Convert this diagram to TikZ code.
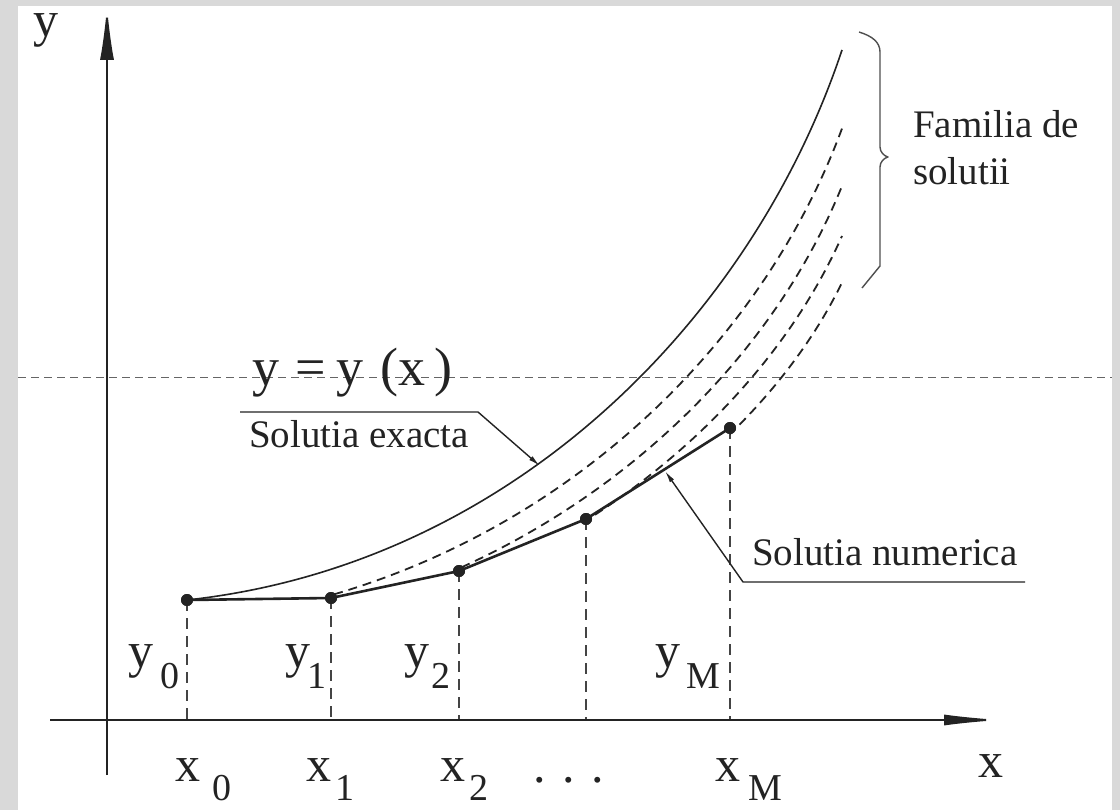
\documentclass[tikz,border=0pt]{standalone}
\usepackage{fontspec}
\setmainfont{Liberation Serif}
\usetikzlibrary{arrows.meta}
\definecolor{frame}{RGB}{217,217,217}
\definecolor{ink}{RGB}{35,35,35}
\newcommand{\lblfont}{\fontsize{50}{56}\selectfont}
\newcommand{\subfont}{\fontsize{38}{42}\selectfont}
\newcommand{\txtfont}{\fontsize{39}{47}\selectfont}
\newcommand{\eqfont}{\fontsize{54}{60}\selectfont}
\newcommand{\ylab}[3]{{\lblfont #1}\hspace{#3}\raisebox{-21pt}{\subfont #2}}
\newcommand{\xlab}[3]{{\lblfont #1}\hspace{#3}\raisebox{-19pt}{\subfont #2}}
\tikzset{
  axis/.style={draw=ink, line width=2pt},
  dot/.style={circle, fill=ink, inner sep=0pt, minimum size=12pt},
  numline/.style={draw=ink, line width=2.6pt, line join=round},
  exactline/.style={draw=ink, line width=1.6pt},
  family/.style={draw=ink, line width=1.8pt, dash pattern=on 9pt off 6pt},
  vline/.style={draw=ink!85, line width=1.5pt, dash pattern=on 11pt off 7pt},
  hline/.style={draw=ink!70, line width=1pt, dash pattern=on 8pt off 5pt},
  leader/.style={draw=ink, line width=1.4pt, -{Latex[length=12pt,width=5pt]}},
  lbl/.style={inner sep=0pt, anchor=base west, text=ink},
}
\begin{document}
\begin{tikzpicture}[x=1pt, y=-1pt]
\useasboundingbox (0,0) rectangle (1120,810);
\fill[frame] (0,0) rectangle (1120,810);
\fill[white] (18,6) rectangle (1112,810);

% horizontal dashed line
\coordinate (hl) at (18,378);
\coordinate (hr) at (1112,378);
\draw[hline] (hl) -- (hr);

% numerical points
\node[dot] (p0) at (187,600) {};
\node[dot] (p1) at (331,598) {};
\node[dot] (p2) at (459,571) {};
\node[dot] (p3) at (586,519) {};
\node[dot] (p4) at (730,428) {};

% feet on x axis
\coordinate (a0) at (187,720);
\coordinate (a1) at (331,720);
\coordinate (a2) at (459,720);
\coordinate (a3) at (586,720);
\coordinate (a4) at (730,720);
\draw[vline] (p0.center) -- (a0);
\draw[vline] (p1.center) -- (a1);
\draw[vline] (p2.center) -- (a2);
\draw[vline] (p3.center) -- (a3);
\draw[vline] (p4.center) -- (a4);

% family of solutions
\begin{scope}
\clip (331,0) rectangle (900,810);
\draw[family] (187,622.7) .. controls (510,591.4) and (752,372.1) .. (842,128.5);
\end{scope}
\begin{scope}
\clip (459,0) rectangle (900,810);
\draw[family] (187,639.0) .. controls (510,610.3) and (752,409.4) .. (842,186.0);
\end{scope}
\begin{scope}
\clip (586,0) rectangle (900,810);
\draw[family] (187,652.0) .. controls (510,625.4) and (752,439.2) .. (842,236.0);
\end{scope}
\begin{scope}
\clip (730,0) rectangle (900,810);
\draw[family] (187,664.3) .. controls (510,639.7) and (752,467.5) .. (842,282.6);
\end{scope}

% exact solution
\coordinate (etop) at (842,50);
\draw[exactline] (p0.center) .. controls (510,565) and (752,320) .. (etop);

% numerical solution
\draw[numline] (p0.center) -- (p1.center) -- (p2.center) -- (p3.center) -- (p4.center);
\node[dot] at (p0) {};
\node[dot] at (p1) {};
\node[dot] at (p2) {};
\node[dot] at (p3) {};
\node[dot] at (p4) {};

% axes
\coordinate (xs) at (50,720);
\coordinate (xe) at (1002,720);
\coordinate (ys) at (107,775);
\coordinate (ye) at (107,6);
\draw[axis, -{Latex[length=58pt,width=11pt]}] (xs) -- (xe);
\draw[axis, -{Latex[length=54pt,width=14pt]}] (ys) -- (ye);
\node[lbl, text height=24pt, text depth=11pt] (ylabel) at (33,37) {\lblfont y};
\node[lbl] (xlabel) at (978,777) {\lblfont x};

% brace
\draw[draw=ink!80, line width=1.4pt, line join=round]
  (859,32) .. controls (872,36) and (880,42) .. (880,52) -- (880,147)
  .. controls (880,152) and (884,156) .. (888,157)
  .. controls (884,158) and (880,162) .. (880,167) -- (880,266)
  -- (862,288);
\node[lbl] (fam1) at (913,138) {\txtfont Familia de};
\node[lbl] (fam2) at (913,185) {\txtfont solutii};

% equation
\node[lbl] (eq) at (252,386) {\eqfont y\hspace{16pt}=\hspace{11pt}y\hspace{17pt}(x\hspace{9pt})};

% leaders
\coordinate (le1) at (240,412);
\coordinate (le2) at (478,412);
\coordinate (ex) at (540,466);
\draw[leader] (le1) -- (le2) -- (ex);
\node[lbl] (exacta) at (249,447) {\txtfont Solutia exacta};

\coordinate (ln1) at (1025,582);
\coordinate (ln2) at (743,582);
\coordinate (nm) at (665,471);
\draw[leader] (ln1) -- (ln2) -- (nm);
\node[lbl] (numerica) at (752,565) {\txtfont Solutia numerica};

% y labels
\node[lbl] (y0) at (128,667) {\ylab{y}{0}{7pt}};
\node[lbl] (y1) at (285,667) {\ylab{y}{1}{-3pt}};
\node[lbl] (y2) at (404,667) {\ylab{y}{2}{2pt}};
\node[lbl] (yM) at (655,667) {\ylab{y}{M}{6pt}};

% x labels
\node[lbl] (x0) at (175,781) {\xlab{x}{0}{12pt}};
\node[lbl] (x1) at (306,781) {\xlab{x}{1}{4pt}};
\node[lbl] (x2) at (440,781) {\xlab{x}{2}{4pt}};
\node[lbl] (xdots) at (533,782) {\lblfont . . .};
\node[lbl] (xM) at (715,781) {\xlab{x}{M}{8pt}};
\end{tikzpicture}
\end{document}
